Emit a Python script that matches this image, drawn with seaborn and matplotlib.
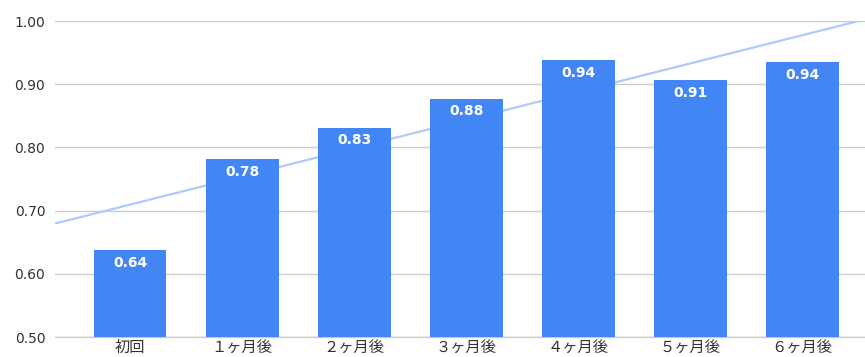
import numpy as np
import pandas as pd
import matplotlib
matplotlib.use("Agg")
import matplotlib.pyplot as plt
import seaborn as sns

# Survey periods and their mean scores
periods = ["初回", "１ヶ月後", "２ヶ月後", "３ヶ月後", "４ヶ月後", "５ヶ月後", "６ヶ月後"]
scores = [0.637, 0.781, 0.831, 0.877, 0.938, 0.906, 0.935]
y_ticks = [0.50, 0.60, 0.70, 0.80, 0.90, 1.00]

df = pd.DataFrame({"period": periods, "score": scores})

sns.set_theme(style="white")
plt.rcParams["font.family"] = ["DejaVu Sans", "Noto Sans CJK JP"]

fig = plt.figure(figsize=(8.65, 3.57), dpi=100)
ax = fig.add_axes([0.0636, 0.056, 0.9364, 0.885])

sns.barplot(data=df, x="period", y="score", color="#4285F4", saturation=1,
            width=0.65, ax=ax, zorder=3)
for patch in ax.patches:
    patch.set_edgecolor("none")

# Linear trendline across the whole plot width, drawn behind the bars
xs = np.arange(len(scores))
slope, intercept = np.polyfit(xs, scores, 1)
xl = np.array([-0.67, 6.56])
ax.plot(xl, slope * xl + intercept, color="#AECBFA", linewidth=1.6, zorder=2,
        solid_capstyle="butt")

# Value labels inside the top of each bar
for i, v in enumerate(scores):
    ax.annotate(f"{v:.2f}", xy=(i, v), xytext=(0, -4), textcoords="offset points",
                ha="center", va="top", color="white", fontsize=10,
                fontweight="bold", zorder=5)

ax.set_xlim(-0.67, 6.56)
ax.set_ylim(0.5, 1.0)
ax.set_yticks(y_ticks)
ax.set_yticklabels([f"{t:.2f}" for t in y_ticks], fontsize=10, color="#333333")
ax.set_xticks(xs)
ax.set_xticklabels(periods, fontsize=11, color="#333333",
                   fontfamily=["Noto Sans CJK JP", "DejaVu Sans"])
ax.set_xlabel("")
ax.set_ylabel("")
ax.yaxis.grid(True, color="#CCCCCC", linewidth=1, zorder=0)
ax.set_axisbelow(True)
for s in ["top", "right", "left"]:
    ax.spines[s].set_visible(False)
ax.spines["bottom"].set_color("#CCCCCC")
ax.spines["bottom"].set_linewidth(1)
ax.tick_params(axis="x", length=0, pad=1)
ax.tick_params(axis="y", length=0, pad=7)

fig.savefig("out.png", dpi=100)
